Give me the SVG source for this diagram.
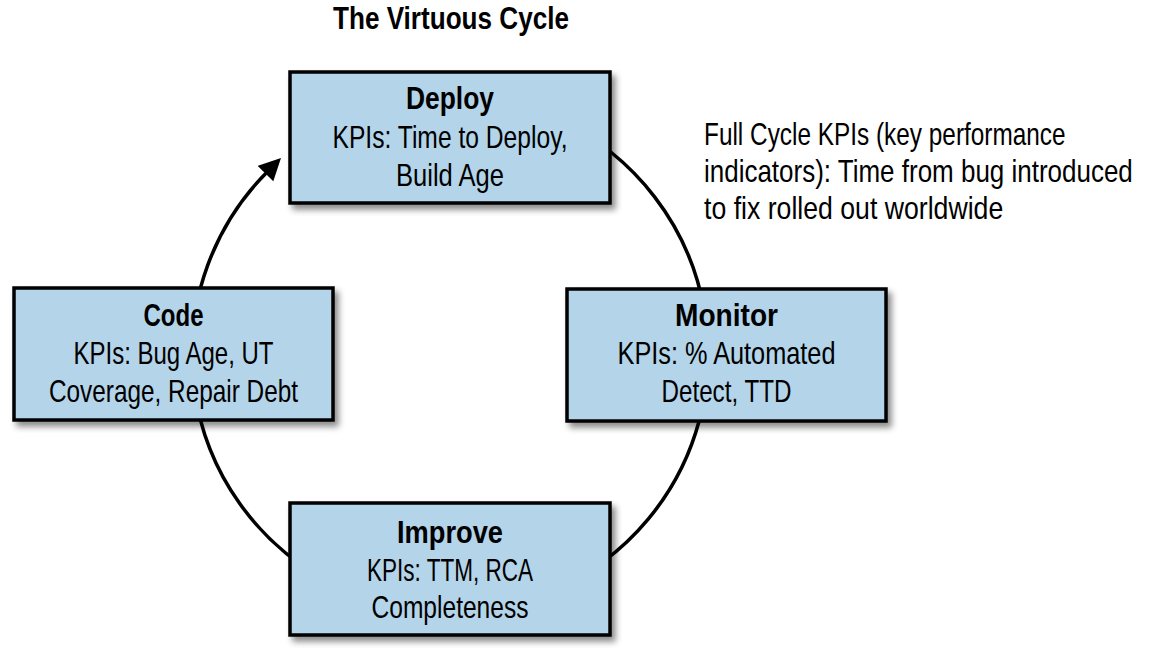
<svg xmlns="http://www.w3.org/2000/svg" width="1165" height="662" viewBox="0 0 1165 662">
<style>
text{font-family:"Liberation Sans",Arial,sans-serif;font-size:32px;fill:#000}
.c{text-anchor:middle}
.b{font-weight:bold}
.box{fill:#b3d4e9;stroke:#000;stroke-width:3.5;filter:url(#sh)}
.conn{fill:none;stroke:#000;stroke-width:3.5}
</style>
<defs>
<filter id="sh" x="-10%" y="-10%" width="125%" height="130%">
<feDropShadow dx="4" dy="5" stdDeviation="3" flood-color="#000" flood-opacity="0.45"/>
</filter>
<marker id="ah" markerUnits="userSpaceOnUse" markerWidth="24" markerHeight="24" refX="2" refY="11" orient="auto">
<path d="M0,0 L22,11 L0,22 z" fill="#000"/>
</marker>
</defs>
<rect width="1165" height="662" fill="#fff"/>
<text class="c b" x="451" y="29" textLength="236" lengthAdjust="spacingAndGlyphs">The Virtuous Cycle</text>
<g id="connectors">
<path class="conn" d="M450,96 A258,258 0 1 1 266.9,172.2" marker-end="url(#ah)"/>
</g>
<g id="deploy">
<rect class="box" x="290" y="72" width="320" height="131"/>
<text class="c b" x="450" y="109" textLength="88" lengthAdjust="spacingAndGlyphs">Deploy</text>
<text class="c" x="450" y="148" textLength="235" lengthAdjust="spacingAndGlyphs">KPIs: Time to Deploy,</text>
<text class="c" x="450" y="186" textLength="108" lengthAdjust="spacingAndGlyphs">Build Age</text>
</g>
<g id="code">
<rect class="box" x="14" y="288" width="319" height="132"/>
<text class="c b" x="173.5" y="326" textLength="60" lengthAdjust="spacingAndGlyphs">Code</text>
<text class="c" x="173.5" y="364" textLength="200" lengthAdjust="spacingAndGlyphs">KPIs: Bug Age, UT</text>
<text class="c" x="173.5" y="402" textLength="249" lengthAdjust="spacingAndGlyphs">Coverage, Repair Debt</text>
</g>
<g id="monitor">
<rect class="box" x="567" y="289" width="319" height="132"/>
<text class="c b" x="726.5" y="326" textLength="103" lengthAdjust="spacingAndGlyphs">Monitor</text>
<text class="c" x="726.5" y="364" textLength="218" lengthAdjust="spacingAndGlyphs">KPIs: % Automated</text>
<text class="c" x="726.5" y="402" textLength="130" lengthAdjust="spacingAndGlyphs">Detect, TTD</text>
</g>
<g id="improve">
<rect class="box" x="290" y="503" width="320" height="132"/>
<text class="c b" x="450" y="543" textLength="106" lengthAdjust="spacingAndGlyphs">Improve</text>
<text class="c" x="450" y="581" textLength="166" lengthAdjust="spacingAndGlyphs">KPIs: TTM, RCA</text>
<text class="c" x="450" y="618" textLength="157" lengthAdjust="spacingAndGlyphs">Completeness</text>
</g>
<g id="note">
<text transform="translate(704,145) scale(0.8,1)" x="0" y="0" textLength="452" lengthAdjust="spacingAndGlyphs">Full Cycle KPIs (key performance</text>
<text transform="translate(704,182) scale(0.8,1)" x="0" y="0" textLength="536" lengthAdjust="spacingAndGlyphs">indicators): Time from bug introduced</text>
<text transform="translate(704,219) scale(0.8,1)" x="0" y="0" textLength="374" lengthAdjust="spacingAndGlyphs">to fix rolled out worldwide</text>
</g>
</svg>
